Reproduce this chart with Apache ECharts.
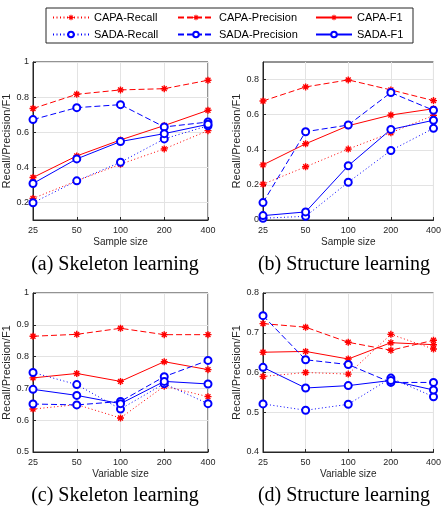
<!DOCTYPE html>
<html>
<head>
<meta charset="utf-8">
<script src="https://cdn.jsdelivr.net/npm/echarts@6/dist/echarts.min.js"></script>
<style>
  html, body { margin: 0; padding: 0; background: #fff; }
  #chart { width: 444px; height: 506px; }
</style>
</head>
<body>
<div id="chart"></div>
<script>
// x categories
var sampleSizes = ['25', '50', '100', '200', '400'];
var variableSizes = ['25', '50', '100', '200', '400'];

// (a) skeleton learning vs sample size
var capaRecallA = [0.223, 0.323, 0.418, 0.505, 0.609];
var capaPrecA   = [0.735, 0.816, 0.841, 0.848, 0.896];
var capaF1A     = [0.342, 0.465, 0.556, 0.638, 0.725];
var sadaRecallA = [0.198, 0.323, 0.429, 0.562, 0.637];
var sadaPrecA   = [0.672, 0.740, 0.757, 0.630, 0.658];
var sadaF1A     = [0.308, 0.448, 0.547, 0.592, 0.645];

// (b) structure learning vs sample size
var capaRecallB = [0.204, 0.303, 0.404, 0.497, 0.596];
var capaPrecB   = [0.678, 0.758, 0.798, 0.741, 0.680];
var capaF1B     = [0.314, 0.434, 0.537, 0.598, 0.634];
var sadaRecallB = [0.010, 0.021, 0.215, 0.396, 0.522];
var sadaPrecB   = [0.099, 0.503, 0.541, 0.726, 0.625];
var sadaF1B     = [0.025, 0.046, 0.309, 0.516, 0.568];

// (c) skeleton learning vs variable size
var capaRecallC = [0.635, 0.649, 0.607, 0.707, 0.674];
var capaPrecC   = [0.864, 0.870, 0.889, 0.869, 0.869];
var capaF1C     = [0.733, 0.747, 0.722, 0.784, 0.759];
var sadaRecallC = [0.750, 0.712, 0.635, 0.715, 0.652];
var sadaPrecC   = [0.651, 0.648, 0.659, 0.737, 0.788];
var sadaF1C     = [0.697, 0.678, 0.652, 0.722, 0.714];

// (d) structure learning vs variable size
var capaRecallD = [0.590, 0.600, 0.596, 0.696, 0.659];
var capaPrecD   = [0.723, 0.714, 0.676, 0.656, 0.681];
var capaF1D     = [0.651, 0.653, 0.634, 0.675, 0.670];
var sadaRecallD = [0.521, 0.505, 0.520, 0.586, 0.539];
var sadaPrecD   = [0.743, 0.632, 0.620, 0.575, 0.575];
var sadaF1D     = [0.613, 0.561, 0.567, 0.580, 0.556];

// y tick values
var yTicksA = [0.2, 0.4, 0.6, 0.8, 1];
var yTicksB = [0, 0.2, 0.4, 0.6, 0.8];

var names = ['CAPA-Recall', 'CAPA-Precision', 'CAPA-F1', 'SADA-Recall', 'SADA-Precision', 'SADA-F1'];

var RED = '#ff0000', BLUE = '#0000ff';
var STAR = 'path://M-1,-5L1,-5L1,5L-1,5Z M-5,-1L5,-1L5,1L-5,1Z M-4.2,-2.8L-2.8,-4.2L4.2,2.8L2.8,4.2Z M2.8,-4.2L4.2,-2.8L-2.8,4.2L-4.2,2.8Z';
var FONT = 'Liberation Sans';
var AXC = '#262626';

var styles = {
  'CAPA-Recall':    { color: RED,  dash: [1, 2.5], sym: STAR },
  'CAPA-Precision': { color: RED,  dash: [6, 3],   sym: STAR },
  'CAPA-F1':        { color: RED,  dash: 'solid',  sym: STAR },
  'SADA-Recall':    { color: BLUE, dash: [1, 2.5], sym: 'emptyCircle' },
  'SADA-Precision': { color: BLUE, dash: [6, 3],   sym: 'emptyCircle' },
  'SADA-F1':        { color: BLUE, dash: 'solid',  sym: 'emptyCircle' }
};

var panels = [
  { cats: sampleSizes, xname: 'Sample size', min: 0.1, max: 1, ticks: yTicksA,
    data: [capaRecallA, capaPrecA, capaF1A, sadaRecallA, sadaPrecA, sadaF1A] },
  { cats: sampleSizes, xname: 'Sample size', min: 0, max: 0.9, ticks: yTicksB,
    data: [capaRecallB, capaPrecB, capaF1B, sadaRecallB, sadaPrecB, sadaF1B] },
  { cats: variableSizes, xname: 'Variable size', min: 0.5, max: 1, interval: 0.1,
    data: [capaRecallC, capaPrecC, capaF1C, sadaRecallC, sadaPrecC, sadaF1C] },
  { cats: variableSizes, xname: 'Variable size', min: 0.4, max: 0.8, interval: 0.1,
    data: [capaRecallD, capaPrecD, capaF1D, sadaRecallD, sadaPrecD, sadaF1D] }
];

var grids = [
  { left: 33, top: 62, width: 175, height: 158 },
  { left: 263, top: 62, width: 172, height: 158 },
  { left: 33, top: 293, width: 175, height: 159 },
  { left: 263, top: 293, width: 172, height: 159 }
];

var xAxes = [], yAxes = [], series = [];
panels.forEach(function (p, i) {
  xAxes.push({
    gridIndex: i, type: 'category', data: p.cats, boundaryGap: false,
    name: p.xname, nameLocation: 'middle', nameGap: 17,
    nameTextStyle: { fontFamily: FONT, fontSize: 10, color: AXC },
    axisLine: { lineStyle: { color: AXC, width: 1 } },
    axisTick: { inside: true, length: 3, alignWithLabel: true, lineStyle: { color: AXC } },
    axisLabel: { fontFamily: FONT, fontSize: 9, color: AXC, margin: 6 },
    splitLine: { show: true, lineStyle: { color: '#e3e3e3', width: 1 } }
  });
  var y = {
    gridIndex: i, type: 'value', min: p.min, max: p.max,
    name: 'Recall/Precision/F1', nameLocation: 'middle', nameGap: 19, nameRotate: 90,
    nameTextStyle: { fontFamily: FONT, fontSize: 11, color: AXC },
    axisLine: { show: true, lineStyle: { color: AXC, width: 1 } },
    axisTick: { show: true, inside: true, length: 3, lineStyle: { color: AXC } },
    axisLabel: { fontFamily: FONT, fontSize: 9, color: AXC, margin: 4 },
    splitLine: { show: true, lineStyle: { color: '#e3e3e3', width: 1 } }
  };
  if (p.ticks) {
    y.axisTick.customValues = p.ticks;
    y.axisLabel.customValues = p.ticks;
  } else {
    y.interval = p.interval;
  }
  yAxes.push(y);

  names.forEach(function (n, k) {
    var s = styles[n];
    series.push({
      type: 'line', name: n, xAxisIndex: i, yAxisIndex: i,
      data: p.data[k],
      symbol: s.sym, symbolSize: 7,
      showSymbol: true,
      lineStyle: { color: s.color, width: 1, type: s.dash },
      itemStyle: { color: s.color, borderColor: s.color, borderWidth: s.sym === STAR ? 0 : 1.1 },
      emphasis: { disabled: true },
      animation: false
    });
  });
});

// legend, one component per entry so the columns line up
var legendCols = [52, 177, 315];
var legendRows = [12, 29];
var legends = names.map(function (n, k) {
  return {
    data: [n], left: legendCols[k % 3], top: legendRows[Math.floor(k / 3)],
    padding: 0, itemWidth: 36, itemHeight: 7, itemGap: 0,
    selectedMode: false,
    textStyle: { fontFamily: FONT, fontSize: 11, color: '#000' }
  };
});

var chart = echarts.init(document.getElementById('chart'), null, { renderer: 'canvas' });
chart.setOption({
  backgroundColor: '#fff',
  animation: false,
  grid: grids.map(function (g) {
    return Object.assign({ show: true, borderColor: AXC, borderWidth: 1, backgroundColor: 'transparent' }, g);
  }),
  xAxis: xAxes,
  yAxis: yAxes,
  legend: legends,
  series: series,
  graphic: [
    { type: 'rect', z: -1, shape: { x: 46, y: 8, width: 367, height: 35 },
      style: { fill: '#fff', stroke: AXC, lineWidth: 1 } },
    { type: 'text', x: 115, y: 265, style: { text: '(a) Skeleton learning', font: '20px "Liberation Serif"', fill: '#000', align: 'center', verticalAlign: 'middle' } },
    { type: 'text', x: 344, y: 265, style: { text: '(b) Structure learning', font: '20px "Liberation Serif"', fill: '#000', align: 'center', verticalAlign: 'middle' } },
    { type: 'text', x: 115, y: 496, style: { text: '(c) Skeleton learning', font: '20px "Liberation Serif"', fill: '#000', align: 'center', verticalAlign: 'middle' } },
    { type: 'text', x: 344, y: 496, style: { text: '(d) Structure learning', font: '20px "Liberation Serif"', fill: '#000', align: 'center', verticalAlign: 'middle' } }
  ]
});
</script>
</body>
</html>
